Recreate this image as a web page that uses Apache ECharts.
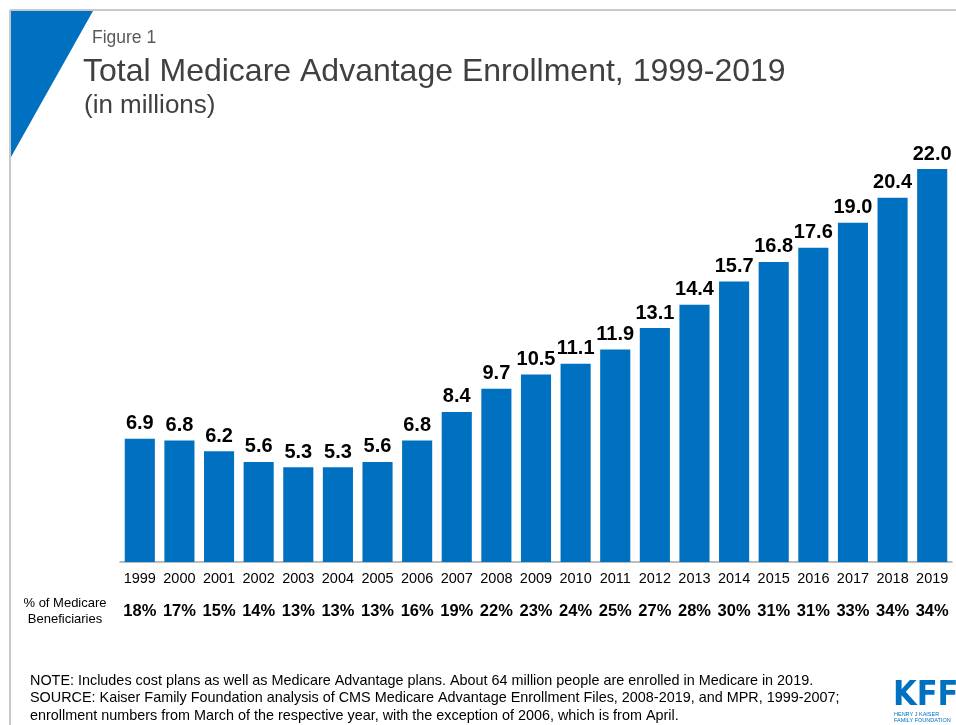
<!DOCTYPE html>
<html>
<head>
<meta charset="utf-8">
<script src="https://cdn.jsdelivr.net/npm/echarts@6/dist/echarts.min.js"></script>
<style>html,body{margin:0;padding:0;background:#fff}#c{width:956px;height:725px}</style>
</head>
<body>
<div id="c"></div>
<script>
const years = ['1999','2000','2001','2002','2003','2004','2005','2006','2007','2008','2009','2010','2011','2012','2013','2014','2015','2016','2017','2018','2019'];
const enrollment = [6.9,6.8,6.2,5.6,5.3,5.3,5.6,6.8,8.4,9.7,10.5,11.1,11.9,13.1,14.4,15.7,16.8,17.6,19.0,20.4,22.0];
const pctBeneficiaries = ['18%','17%','15%','14%','13%','13%','13%','16%','19%','22%','23%','24%','25%','27%','28%','30%','31%','31%','33%','34%','34%'];

const chart = echarts.init(document.getElementById('c'));
const F = '"Liberation Sans", Arial, sans-serif';
chart.setOption({
  animation: false,
  backgroundColor: '#fff',
  textStyle: {fontFamily: F},
  grid: {left: 120, right: 4, top: 115.5, bottom: 163},
  xAxis: [{
    type: 'category', data: years, gridIndex: 0,
    axisLine: {lineStyle: {color: '#a6a6a6', width: 1.5}},
    axisTick: {show: false},
    axisLabel: {color: '#000', fontSize: 14.5, margin: 9, interval: 0, fontFamily: F}
  }, {
    type: 'category', data: pctBeneficiaries, gridIndex: 0, position: 'bottom', offset: 41,
    axisLine: {show: false}, axisTick: {show: false},
    axisLabel: {color: '#000', fontSize: 16.5, fontWeight: 'bold', margin: 0, interval: 0, fontFamily: F}
  }],
  yAxis: {type: 'value', min: 0, max: 25, show: false, splitLine: {show: false}},
  series: [{
    type: 'bar', data: enrollment, xAxisIndex: 0, barCategoryGap: '24%',
    itemStyle: {color: '#0070C0'},
    label: {show: true, position: 'top', distance: 5, color: '#000', fontSize: 20, fontWeight: 'bold', fontFamily: F,
      formatter: p => p.value.toFixed(1)}
  }],
  graphic: [
    {type: 'line', shape: {x1: 10, y1: 10, x2: 956, y2: 10}, style: {stroke: '#c8c8c8', lineWidth: 2}},
    {type: 'line', shape: {x1: 10, y1: 10, x2: 10, y2: 725}, style: {stroke: '#c8c8c8', lineWidth: 2}},
    {type: 'polygon', shape: {points: [[11, 11], [93, 11], [11, 157]]}, style: {fill: '#0070C0'}},
    {type: 'text', x: 92, y: 38, style: {text: 'Figure 1', fontSize: 17.5, fill: '#595959', verticalAlign: 'middle', fontFamily: F}},
    {type: 'text', x: 83, y: 72, style: {text: 'Total Medicare Advantage Enrollment, 1999-2019', fontSize: 32, fill: '#404040', verticalAlign: 'middle', fontFamily: F}},
    {type: 'text', x: 84, y: 106, style: {text: '(in millions)', fontSize: 26, fill: '#404040', verticalAlign: 'middle', fontFamily: F}},
    {type: 'text', x: 65, y: 611, style: {text: '% of Medicare\nBeneficiaries', fontSize: 13, lineHeight: 16, fill: '#000', align: 'center', verticalAlign: 'middle', fontFamily: F}},
    {type: 'text', x: 30, y: 672, style: {text: 'NOTE: Includes cost plans as well as Medicare Advantage plans. About 64 million people are enrolled in Medicare in 2019.\nSOURCE: Kaiser Family Foundation analysis of CMS Medicare Advantage Enrollment Files, 2008-2019, and MPR, 1999-2007;\nenrollment numbers from March of the respective year, with the exception of 2006, which is from April.', fontSize: 14.4, lineHeight: 17.5, fill: '#000', verticalAlign: 'top', fontFamily: F}},
    {type: 'text', x: 893, y: 679, style: {text: 'KFF', fontSize: 34, fontWeight: 'bold', fill: '#0070C0', fontFamily: '"DejaVu Sans Condensed", sans-serif'}},
    {type: 'text', x: 894, y: 711, style: {text: 'HENRY J KAISER\nFAMILY FOUNDATION', fontSize: 5.5, lineHeight: 6, fill: '#0070C0', fontFamily: F}}
  ]
});
</script>
</body>
</html>
